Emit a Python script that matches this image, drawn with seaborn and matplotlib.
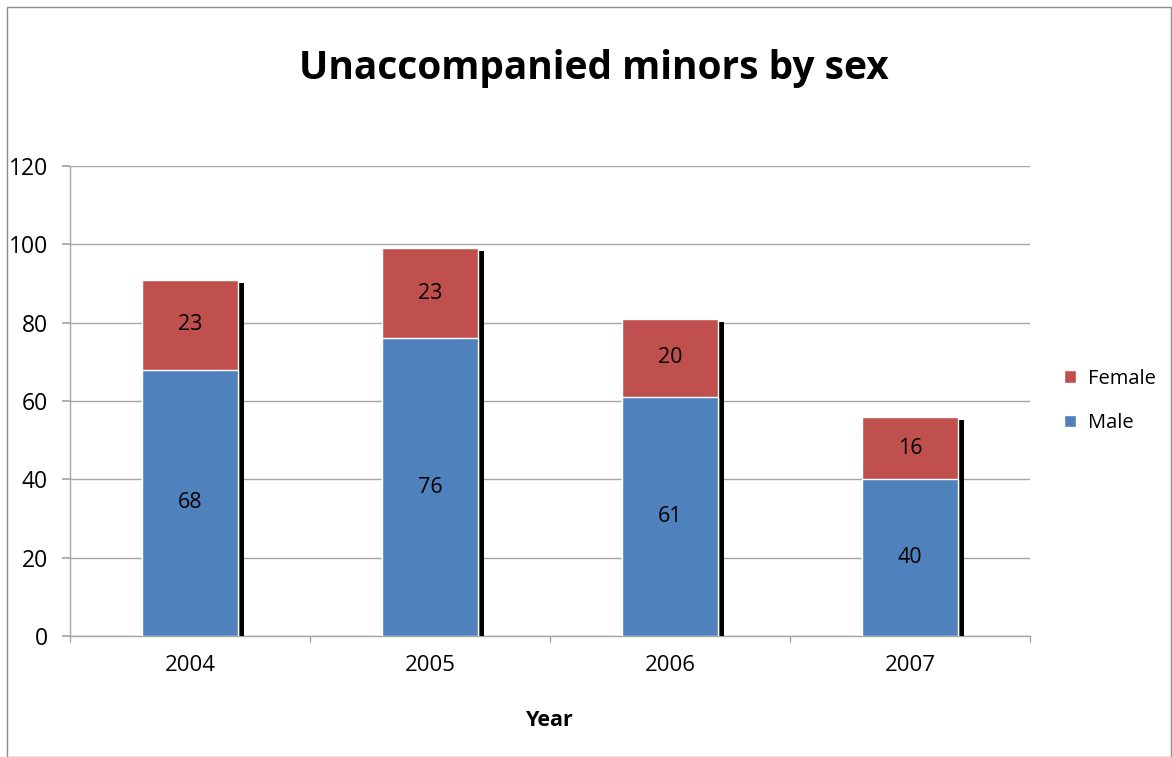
import matplotlib
matplotlib.use("Agg")
import matplotlib.pyplot as plt
import matplotlib.patheffects as pe
from matplotlib.patches import Patch
import seaborn as sns
import pandas as pd

years = ["2004", "2005", "2006", "2007"]
male = [68, 76, 61, 40]
female = [23, 23, 20, 16]
y_ticks = [0, 20, 40, 60, 80, 100, 120]

blue = "#4F81BD"
red = "#C0504D"
grid_gray = "#A6A6A6"

df = pd.DataFrame({"Year": years, "Male": male, "Female": female})
df["Total"] = df["Male"] + df["Female"]

sns.set_theme(style="white")
plt.rcParams["font.family"] = ["Open Sans", "DejaVu Sans"]
plt.rcParams["text.color"] = "black"
plt.rcParams["xtick.color"] = "black"
plt.rcParams["ytick.color"] = "black"
plt.rcParams["axes.labelcolor"] = "black"

fig = plt.figure(figsize=(11.72, 7.57), dpi=100)
ax = fig.add_axes([70 / 1172, 1 - 636 / 757, 960 / 1172, 470 / 757])

# Female segment is drawn as the full stack height, Male drawn over it
sns.barplot(data=df, x="Year", y="Total", color=red, width=0.4, saturation=1,
            edgecolor="white", linewidth=1.0, ax=ax, zorder=3)
for p in ax.patches:
    p.set_path_effects([pe.SimplePatchShadow(offset=(4, -2.2), shadow_rgbFace="black", alpha=1.0),
                        pe.Normal()])
sns.barplot(data=df, x="Year", y="Male", color=blue, width=0.4, saturation=1,
            edgecolor="white", linewidth=1.0, ax=ax, zorder=4)

# value labels in the middle of each segment
for i, (m, f) in enumerate(zip(male, female)):
    ax.text(i, m / 2, f"{m}", ha="center", va="center", fontsize=15.5, color="black", zorder=6)
    ax.text(i, m + f / 2, f"{f}", ha="center", va="center", fontsize=15.5, color="black", zorder=6)

ax.set_xlim(-0.5, len(years) - 0.5)
ax.set_ylim(0, 120)
ax.set_yticks(y_ticks)
ax.set_yticklabels([str(t) for t in y_ticks], fontsize=16.5)
ax.tick_params(axis="x", labelsize=16, length=0, pad=14, labelcolor="black")
ax.tick_params(axis="y", length=6, color=grid_gray, left=True, pad=10, labelcolor="black")
ax.yaxis.grid(True, color=grid_gray, linewidth=1.0, zorder=0)
ax.set_axisbelow(True)

# category separator ticks on the x axis
for b in [x + 0.5 for x in range(-1, len(years))]:
    ax.plot([b, b], [0, -1.6], color=grid_gray, lw=1.0, clip_on=False, zorder=2)

for s in ["top", "right"]:
    ax.spines[s].set_visible(False)
for s in ["left", "bottom"]:
    ax.spines[s].set_color(grid_gray)
    ax.spines[s].set_linewidth(1.0)

ax.set_ylabel("")
ax.set_xlabel("Year", fontsize=15.5, fontweight="bold", labelpad=24, color="black")

fig.text(594 / 1172, 1 - 69 / 757, "Unaccompanied minors by sex", ha="center", va="center",
         fontsize=28, fontweight="bold", color="black")

# legend
handles = [Patch(facecolor=red, label="Female"), Patch(facecolor=blue, label="Male")]
leg = fig.legend(handles=handles, loc="center left", bbox_to_anchor=(1056 / 1172, 1 - 401 / 757),
                 frameon=False, fontsize=14.5, handlelength=0.6, handleheight=0.6,
                 handletextpad=0.6, labelspacing=1.2, borderpad=0.2, borderaxespad=0.2)
for t in leg.get_texts():
    t.set_color("black")

# chart border
fig.patches.append(plt.Rectangle((7 / 1172, 0), 1 - 8 / 1172, 1 - 7 / 757, transform=fig.transFigure,
                                 fill=False, edgecolor="#8C8C8C", linewidth=1.0))

fig.savefig("out.png", dpi=100)
